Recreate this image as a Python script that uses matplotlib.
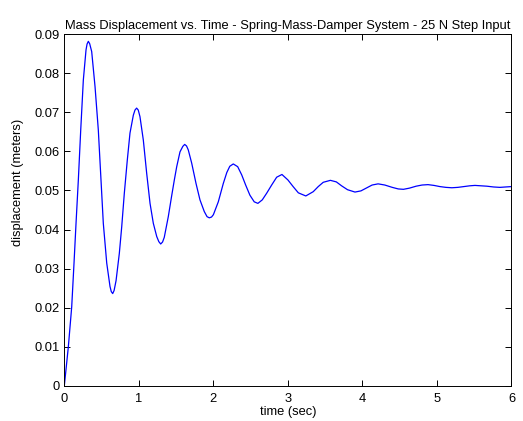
import matplotlib
matplotlib.use("Agg")
import matplotlib.pyplot as plt
from matplotlib.ticker import FixedLocator, FuncFormatter

# displacement (time in s, displacement in mm)
time_s = [
    0.0, 0.054, 0.099, 0.130, 0.157, 0.188, 0.220, 0.255, 0.291, 0.305,
    0.322, 0.340, 0.367, 0.412, 0.456, 0.492, 0.523, 0.569, 0.613, 0.630,
    0.649, 0.668, 0.694, 0.738, 0.770, 0.805, 0.845, 0.881, 0.926, 0.948,
    0.970, 0.992, 1.015, 1.060, 1.105, 1.150, 1.194, 1.240, 1.268, 1.293,
    1.318, 1.341, 1.395, 1.440, 1.476, 1.508, 1.552, 1.590, 1.615, 1.640,
    1.663, 1.709, 1.767, 1.820, 1.878, 1.915, 1.945, 1.975, 2.000, 2.066,
    2.133, 2.180, 2.220, 2.267, 2.326, 2.380, 2.433, 2.490, 2.548, 2.597,
    2.656, 2.715, 2.782, 2.849, 2.920, 3.000, 3.070, 3.140, 3.240, 3.340,
    3.407, 3.474, 3.570, 3.650, 3.720, 3.800, 3.900, 3.980, 4.060, 4.130,
    4.210, 4.300, 4.400, 4.480, 4.550, 4.630, 4.720, 4.800, 4.880, 4.960,
    5.040, 5.120, 5.200, 5.280, 5.360, 5.440, 5.510, 5.590, 5.670, 5.760,
    5.845, 5.920, 6.0,
]
disp_mm = [
    0.0, 10.0, 20.2, 31.4, 41.6, 52.7, 65.5, 78.3, 86.0, 87.5,
    88.2, 87.6, 85.6, 76.6, 65.5, 52.7, 41.6, 31.4, 25.4, 24.1,
    23.6, 24.4, 26.9, 33.9, 40.7, 49.3, 57.8, 64.7, 69.3, 70.6,
    71.1, 70.6, 68.9, 62.9, 54.4, 46.7, 41.6, 38.2, 36.9, 36.3,
    36.8, 38.0, 43.3, 48.6, 52.7, 56.1, 59.9, 61.3, 61.8, 61.4,
    60.4, 57.0, 51.8, 47.6, 44.6, 43.3, 43.0, 43.2, 43.8, 47.1,
    51.8, 54.6, 56.2, 56.8, 56.1, 54.0, 51.4, 48.8, 47.1, 46.7,
    47.6, 49.3, 51.4, 53.4, 54.1, 52.7, 51.0, 49.4, 48.6, 49.7,
    51.0, 52.1, 52.6, 52.2, 51.2, 50.2, 49.6, 49.9, 50.7, 51.4,
    51.7, 51.4, 50.8, 50.4, 50.3, 50.6, 51.1, 51.4, 51.5, 51.3,
    51.0, 50.8, 50.7, 50.8, 51.0, 51.2, 51.3, 51.2, 51.1, 50.9,
    50.8, 50.9, 51.0,
]
disp_m = [v / 1000.0 for v in disp_mm]

x_ticks = [0, 1, 2, 3, 4, 5, 6]
y_ticks = [0.0, 0.01, 0.02, 0.03, 0.04, 0.05, 0.06, 0.07, 0.08, 0.09]

plt.rcParams["font.family"] = ["Liberation Sans", "DejaVu Sans"]
plt.rcParams["font.size"] = 9.3

fig = plt.figure(figsize=(5.23, 4.21), dpi=100)
ax = fig.add_axes([0.123, 0.0838, 0.855, 0.8347])

ax.plot(time_s, disp_m, color="#0000ff", linewidth=0.9)

ax.set_xlim(0, 6)
ax.set_ylim(0, 0.09)
ax.xaxis.set_major_locator(FixedLocator(x_ticks))
ax.yaxis.set_major_locator(FixedLocator(y_ticks))
ax.yaxis.set_major_formatter(FuncFormatter(lambda v, _: "0" if v == 0 else f"{v:.2f}"))
ax.tick_params(direction="in", length=4, width=0.7, top=True, right=True,
               labelsize=9.3)
ax.tick_params(axis="x", pad=5.5)
ax.tick_params(axis="y", pad=3.5)
for spine in ax.spines.values():
    spine.set_linewidth(0.7)

ax.set_title("Mass Displacement vs. Time - Spring-Mass-Damper System - 25 N Step Input",
             fontsize=9.3, pad=4)
ax.set_xlabel("time (sec)", fontsize=9.3, labelpad=0.5)
ax.set_ylabel("displacement (meters)", fontsize=9.3)
ax.yaxis.set_label_coords(-0.09, 0.58)

fig.savefig("out.png", dpi=100)
